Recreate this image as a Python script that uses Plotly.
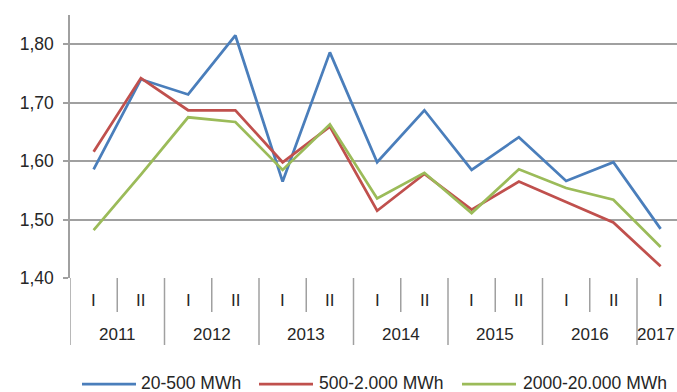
import plotly.graph_objects as go

# ---- data ----
period_year = ["2011", "2011", "2012", "2012", "2013", "2013", "2014", "2014",
               "2015", "2015", "2016", "2016", "2017"]
period_half = ["I", "II", "I", "II", "I", "II", "I", "II", "I", "II", "I", "II", "I"]
series_names = ["20-500 MWh", "500-2.000 MWh", "2000-20.000 MWh"]
s_20_500 = [1.586, 1.740, 1.714, 1.815, 1.565, 1.786, 1.598, 1.687, 1.585, 1.641, 1.566, 1.598, 1.484]
s_500_2000 = [1.616, 1.742, 1.687, 1.687, 1.598, 1.659, 1.515, 1.578, 1.517, 1.565, 1.530, 1.495, 1.420]
s_2000_20000 = [1.482, 1.577, 1.675, 1.667, 1.585, 1.663, 1.536, 1.580, 1.511, 1.586, 1.554, 1.534, 1.453]
y_ticks = [1.40, 1.50, 1.60, 1.70, 1.80]

colors = ["#4A7EBB", "#C0504D", "#9BBB59"]
FONT = "Liberation Sans, Arial, sans-serif"
TXT = "#262626"
GRID = "#A0A0A0"

W, H = 677, 392
ML, MR, MT, MB = 70, 0, 15, 114
pw, ph = W - ML - MR, H - MT - MB

def py(px):  # pixel y -> paper y
    return (H - MB - px) / ph

def pxp(px):  # pixel x -> paper x
    return (px - ML) / pw

xs = list(range(len(period_half)))
fig = go.Figure()
for name, vals, c in zip(series_names, [s_20_500, s_500_2000, s_2000_20000], colors):
    fig.add_trace(go.Scatter(x=xs, y=vals, mode="lines", name=name,
                             line=dict(color=c, width=2.75), showlegend=False))

shapes = []
annotations = []
# half labels
for i, h in enumerate(period_half):
    annotations.append(dict(x=i, y=py(300), xref="x", yref="paper", text=h, showarrow=False,
                            font=dict(family=FONT, size=17, color=TXT), yanchor="middle"))
# dividers at boundaries
for i in range(len(period_half) - 1):
    b = i + 0.5
    long_div = period_year[i] != period_year[i + 1]
    shapes.append(dict(type="line", xref="x", yref="paper", x0=b, x1=b, y0=0,
                       y1=py(345) if long_div else py(312),
                       line=dict(color=GRID, width=1.5)))
# left axis extension
shapes.append(dict(type="line", xref="x", yref="paper", x0=-0.5, x1=-0.5, y0=0, y1=py(345),
                   line=dict(color=GRID, width=1.5)))
# year labels
years = []
for y in period_year:
    if y not in years:
        years.append(y)
for k, y in enumerate(years):
    idx = [i for i, v in enumerate(period_year) if v == y]
    if k == len(years) - 1:
        # last (partial) year label sits against the right edge
        annotations.append(dict(x=1.0, y=py(334), xref="paper", yref="paper", text=y,
                                showarrow=False, font=dict(family=FONT, size=17, color=TXT),
                                xanchor="right", yanchor="middle"))
    else:
        annotations.append(dict(x=sum(idx) / len(idx), y=py(334), xref="x", yref="paper", text=y,
                                showarrow=False, font=dict(family=FONT, size=17, color=TXT),
                                yanchor="middle"))

# manual legend
leg = [(82, 136, 139), (259, 313, 317), (462, 516, 521)]
for (x0, x1, xt), name, c in zip(leg, series_names, colors):
    shapes.append(dict(type="line", xref="paper", yref="paper", x0=pxp(x0), x1=pxp(x1),
                       y0=py(384), y1=py(384), line=dict(color=c, width=2.75)))
    annotations.append(dict(x=pxp(xt), y=py(383), xref="paper", yref="paper", text=name,
                            showarrow=False, xanchor="left", yanchor="middle",
                            font=dict(family=FONT, size=17.5, color=TXT)))

fig.update_layout(
    width=W, height=H, margin=dict(l=ML, r=MR, t=MT, b=MB),
    paper_bgcolor="white", plot_bgcolor="white",
    separators=",.",
    showlegend=False,
    shapes=shapes, annotations=annotations,
    xaxis=dict(range=[-0.5, -0.5 + pw / 47.25], showticklabels=False, showgrid=False,
               zeroline=False, showline=False, ticks=""),
    yaxis=dict(range=[1.40, 1.85], tickvals=y_ticks, tickformat=".2f", showgrid=True,
               gridcolor=GRID, gridwidth=1.5, zeroline=False, showline=True, linecolor=GRID,
               linewidth=1.5, ticks="outside", ticklen=5, tickcolor=GRID, tickwidth=1.5,
               ticklabelstandoff=6,
               tickfont=dict(family=FONT, size=17.5, color=TXT)),
)
fig.write_html("out.html", config={"displayModeBar": False},
               post_script="document.body.style.margin='0';document.body.style.overflow='hidden';")
